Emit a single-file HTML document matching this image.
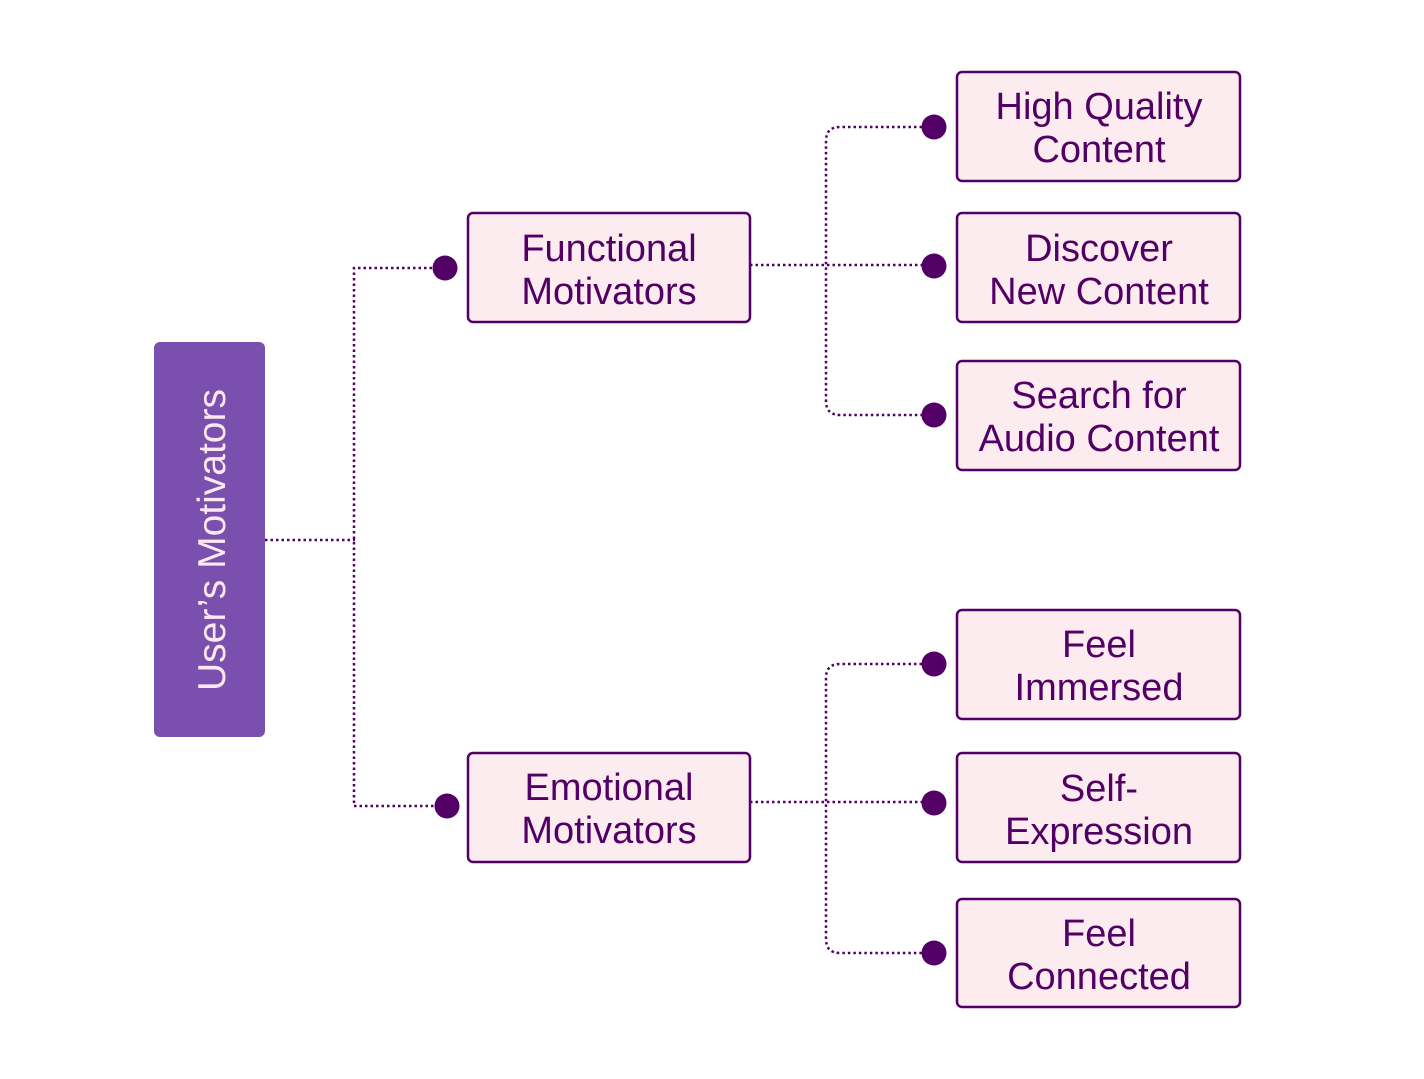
<!DOCTYPE html>
<html><head><meta charset="utf-8"><style>html,body{margin:0;padding:0;background:#fff}svg{display:block}</style></head><body>
<svg width="1424" height="1079" viewBox="0 0 1424 1079" xmlns="http://www.w3.org/2000/svg">
<g fill="none" stroke="#520066" stroke-width="2.5" stroke-dasharray="2.5 3">
<path d="M265 540 H355"/>
<path d="M432 268 H354 V806 H434"/>
<path d="M750 265 H922"/>
<path d="M922 127 H840 Q826 127 826 141 V401 Q826 415 840 415 H922"/>
<path d="M750 802 H922"/>
<path d="M922 664 H840 Q826 664 826 678 V939 Q826 953 840 953 H922"/>
</g>
<g fill="#520066">
<circle cx="445" cy="268" r="12.5"/><circle cx="447" cy="806" r="12.5"/>
<circle cx="934" cy="127" r="12.5"/><circle cx="934" cy="266" r="12.5"/><circle cx="934" cy="415" r="12.5"/>
<circle cx="934" cy="664" r="12.5"/><circle cx="934" cy="803" r="12.5"/><circle cx="934" cy="953" r="12.5"/>
</g>
<rect x="154" y="342" width="111" height="395" rx="6" fill="#7a4fad"/>
<text transform="translate(225 540) rotate(-90)" text-anchor="middle" font-family="Liberation Sans, sans-serif" font-size="39" fill="#fce8f0">User’s Motivators</text>
<g fill="#fcebef" stroke="#520066" stroke-width="2.5">
<rect x="468" y="213" width="282" height="109" rx="5"/>
<rect x="468" y="753" width="282" height="109" rx="5"/>
<rect x="957" y="72" width="283" height="109" rx="5"/>
<rect x="957" y="213" width="283" height="109" rx="5"/>
<rect x="957" y="361" width="283" height="109" rx="5"/>
<rect x="957" y="610" width="283" height="109" rx="5"/>
<rect x="957" y="753" width="283" height="109" rx="5"/>
<rect x="957" y="899" width="283" height="108" rx="5"/>
</g>
<g font-family="Liberation Sans, sans-serif" font-size="38" fill="#520066" text-anchor="middle">
<text x="609" y="261">Functional</text><text x="609" y="304">Motivators</text>
<text x="609" y="800">Emotional</text><text x="609" y="843">Motivators</text>
<text x="1099" y="119">High Quality</text><text x="1099" y="162">Content</text>
<text x="1099" y="261">Discover</text><text x="1099" y="304">New Content</text>
<text x="1099" y="408">Search for</text><text x="1099" y="451">Audio Content</text>
<text x="1099" y="657">Feel</text><text x="1099" y="700">Immersed</text>
<text x="1099" y="801">Self-</text><text x="1099" y="844">Expression</text>
<text x="1099" y="946">Feel</text><text x="1099" y="989">Connected</text>
</g>
</svg>
</body></html>
